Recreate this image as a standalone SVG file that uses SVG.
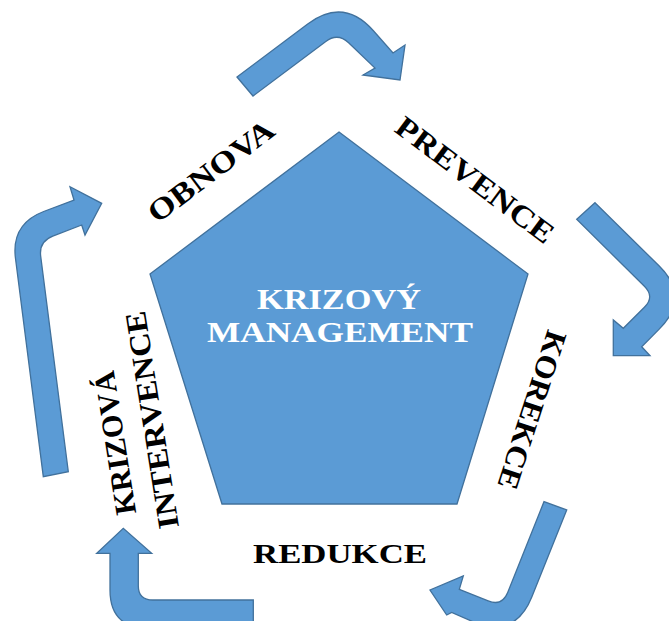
<svg xmlns="http://www.w3.org/2000/svg" width="669" height="621" viewBox="0 0 669 621">
<style>
.shape{fill:#5B9BD5;stroke:#41719C;stroke-width:1.3;stroke-linejoin:miter}
.lbl{font-family:"Liberation Serif","Times New Roman",serif;font-weight:bold;font-size:30px;fill:#000;text-anchor:middle}
.ctr{fill:#fff}
</style>
<rect width="669" height="621" fill="#fff"/>
<g id="center">
<polygon class="shape" points="339,132 528,274 457,504 222,504 150,274"/>
<text class="lbl ctr" x="339" y="309" textLength="164" lengthAdjust="spacingAndGlyphs">KRIZOVÝ</text>
<text class="lbl ctr" x="340" y="342" textLength="266" lengthAdjust="spacingAndGlyphs">MANAGEMENT</text>
</g>
<g id="obnova">
<text class="lbl" transform="translate(211,171) rotate(-37)" x="0" y="10" textLength="150" lengthAdjust="spacingAndGlyphs">OBNOVA</text>
</g>
<g id="prevence">
<text class="lbl" transform="translate(475,180) rotate(37)" x="0" y="10" textLength="190" lengthAdjust="spacingAndGlyphs">PREVENCE</text>
</g>
<g id="korekce">
<text class="lbl" transform="translate(532,410) rotate(108)" x="0" y="10" textLength="165" lengthAdjust="spacingAndGlyphs">KOREKCE</text>
</g>
<g id="redukce">
<text class="lbl" x="340" y="563" style="font-size:28px" textLength="174" lengthAdjust="spacingAndGlyphs">REDUKCE</text>
</g>
<g id="krizova-intervence">
<text class="lbl" transform="translate(115,443) rotate(-99)" x="0" y="10" textLength="145" lengthAdjust="spacingAndGlyphs">KRIZOVÁ</text>
<text class="lbl" transform="translate(152,420) rotate(-99)" x="0" y="10" textLength="220" lengthAdjust="spacingAndGlyphs">INTERVENCE</text>
</g>
<g id="connectors">
<path class="shape" d="M237,77 L307.7,24 Q343.7,-3 373.4,30.8 L393,53 L405,45 L400,80 L363,75 L375,68 L348.6,42.8 Q337.8,32.4 325.8,41.4 L253,96 Z"/>
<path class="shape" d="M595,202.7 L659,265.8 Q691,297.3 659.2,329.1 L641.7,346.7 L650,355.7 L613.3,355.7 L613.3,320 L623.3,328.3 L644.4,307.3 Q655,296.7 644.4,286.2 L576.7,219.3 Z"/>
<path class="shape" d="M566.7,510 L531.9,596.8 Q515.2,638.6 473.4,621.9 L451.7,612.5 L446.7,615 L430,590 L463.3,576 L459.3,589.3 L488.2,600.9 Q502.1,606.5 507.7,592.6 L544,501.7 Z"/>
<path class="shape" d="M253.3,600 L153,600 Q138.3,600 138.3,586 L138.3,553.3 L151.7,553.3 L123.3,528.3 L96.7,553.3 L110,553.3 L110,590 Q110,628 148,628 L253.3,628 Z"/>
<path class="shape" d="M43.3,476.7 L15.5,258.5 Q11,224 43.7,211.5 L74,200 L70,186.7 L101.7,203.3 L85,235 L81.7,225 L52.8,236.1 Q38.8,241.4 40.7,256.3 L68.3,471.7 Z"/>
</g>
</svg>
